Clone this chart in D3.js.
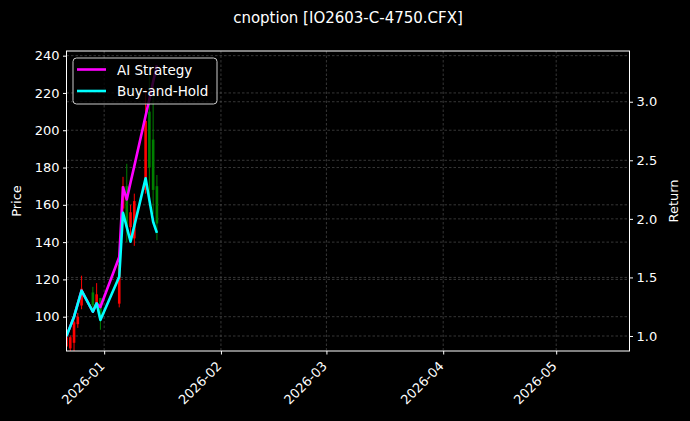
<!DOCTYPE html>
<html>
<head>
<meta charset="utf-8">
<script src="https://cdn.jsdelivr.net/npm/d3@7"></script>
<style>
  body { margin: 0; background: #000; }
  svg { display: block; font-family: "DejaVu Sans", sans-serif; }
</style>
</head>
<body>
<div id="chart"></div>
<script>
// trading days shown on the chart
var dates = ["2025-12-22", "2025-12-23", "2025-12-24", "2025-12-25", "2025-12-26",
             "2025-12-29", "2025-12-30", "2025-12-31", "2026-01-05", "2026-01-06",
             "2026-01-07", "2026-01-08", "2026-01-09", "2026-01-12", "2026-01-13",
             "2026-01-14", "2026-01-15"];

// option prices (OHLC)
var openPx  = [84, 83, 86, 96, 106, 113, 107, 110, 107, 158, 170, 148, 142, 168, 210, 195, 170];
var highPx  = [90, 90, 98, 102, 122, 116, 118, 110, 133, 175, 182, 160, 166, 222, 232, 224, 176];
var lowPx   = [78, 79, 80, 94, 104, 103, 107, 93, 105, 152, 140, 143, 138, 166, 162, 155, 141];
var closePx = [89, 89, 97, 100, 115, 106, 112, 100, 128, 170, 148, 156, 162, 205, 180, 168, 150];

// cumulative returns
var aiReturn = [1.0, 1.082, 1.165, 1.276, 1.387, 1.207, 1.279, 1.247, 1.674, 2.27,
                2.165, 2.31, 2.45, 2.88, 3.02, 3.17, 3.31];
var bhReturn = [1.0, 1.082, 1.165, 1.276, 1.387, 1.207, 1.279, 1.137, 1.506, 2.052,
                1.93, 1.805, 1.94, 2.346, 2.16, 1.975, 1.881];

var priceTicks = [100, 120, 140, 160, 180, 200, 220, 240];
var returnTicks = [1.0, 1.5, 2.0, 2.5, 3.0];
var monthTicks = ["2026-01-01", "2026-02-01", "2026-03-01", "2026-04-01", "2026-05-01"];

var W = 690, H = 421;
var margin = { top: 51, left: 66.5, right: 60.5, bottom: 70 };
var pw = W - margin.left - margin.right,
    ph = H - margin.top - margin.bottom;

var parse = d3.utcParse("%Y-%m-%d");
var days = dates.map(parse);

var x = d3.scaleUtc()
    .domain([parse("2025-12-22"), d3.utcHour.offset(parse("2026-05-20"), 11)])
    .range([0, pw]);
var y = d3.scaleLinear().domain([81.6, 242.5]).range([ph, 0]);
var y2 = d3.scaleLinear().domain([0.872, 3.433]).range([ph, 0]);

var svg = d3.select("#chart").append("svg")
    .attr("width", W)
    .attr("height", H);
svg.append("rect").attr("width", W).attr("height", H).attr("fill", "#000");

svg.append("defs").append("clipPath").attr("id", "clip")
  .append("rect").attr("width", pw).attr("height", ph);

var g = svg.append("g").attr("transform", "translate(" + margin.left + "," + margin.top + ")");

// grid lines
var grid = g.append("g").attr("class", "grid")
    .attr("stroke", "#5a5a5a").attr("stroke-width", 0.6).attr("stroke-dasharray", "2.5,2");
grid.selectAll(".gx").data(monthTicks.map(parse)).enter().append("line")
    .attr("x1", function(d) { return x(d); }).attr("x2", function(d) { return x(d); })
    .attr("y1", 0).attr("y2", ph);
grid.selectAll(".gy").data(priceTicks).enter().append("line")
    .attr("x1", 0).attr("x2", pw)
    .attr("y1", function(d) { return y(d); }).attr("y2", function(d) { return y(d); });
grid.selectAll(".gy2").data(returnTicks).enter().append("line")
    .attr("x1", 0).attr("x2", pw)
    .attr("y1", function(d) { return y2(d); }).attr("y2", function(d) { return y2(d); });

// candles
var candles = g.append("g").attr("clip-path", "url(#clip)");
var bars = candles.selectAll(".candle").data(days).enter().append("g");
function col(i) { return closePx[i] >= openPx[i] ? "#ff0000" : "#008000"; }
bars.append("line")
    .attr("x1", function(d) { return x(d); }).attr("x2", function(d) { return x(d); })
    .attr("y1", function(d, i) { return y(highPx[i]); })
    .attr("y2", function(d, i) { return y(lowPx[i]); })
    .attr("stroke", function(d, i) { return col(i); })
    .attr("stroke-width", 1);
bars.append("rect")
    .attr("x", function(d) { return x(d) - 1.3; })
    .attr("width", 2.6)
    .attr("y", function(d, i) { return y(Math.max(openPx[i], closePx[i])); })
    .attr("height", function(d, i) { return Math.abs(y(openPx[i]) - y(closePx[i])); })
    .attr("fill", function(d, i) { return col(i); });

// return lines
var line = d3.line()
    .x(function(d, i) { return x(days[i]); })
    .y(function(d) { return y2(d); });
var lines = g.append("g").attr("clip-path", "url(#clip)");
lines.append("path").datum(aiReturn)
    .attr("d", line).attr("fill", "none")
    .attr("stroke", "#ff00ff").attr("stroke-width", 2.6).attr("stroke-linejoin", "round");
lines.append("path").datum(bhReturn)
    .attr("d", line).attr("fill", "none")
    .attr("stroke", "#00ffff").attr("stroke-width", 2.6).attr("stroke-linejoin", "round");

// axes
var xAxis = d3.axisBottom(x).tickValues(monthTicks.map(parse))
    .tickFormat(d3.utcFormat("%Y-%m")).tickSize(3.5).tickPadding(3.5);
var yAxis = d3.axisLeft(y).tickValues(priceTicks).tickSize(3.5).tickPadding(3.5);
var y2Axis = d3.axisRight(y2).tickValues(returnTicks)
    .tickFormat(d3.format(".1f")).tickSize(3.5).tickPadding(3.5);

var gx = g.append("g").attr("transform", "translate(0," + ph + ")").call(xAxis);
gx.selectAll("text")
    .attr("text-anchor", "end")
    .attr("dy", 0)
    .attr("transform", "translate(-4,11) rotate(-45)");
g.append("g").call(yAxis);
g.append("g").attr("transform", "translate(" + pw + ",0)").call(y2Axis);

g.selectAll(".domain").remove();
g.selectAll(".tick line").attr("stroke", "#fff");
g.selectAll(".tick text").attr("fill", "#fff").attr("font-size", 13)
    .attr("font-family", "DejaVu Sans");

// frame
g.append("rect").attr("width", pw).attr("height", ph)
    .attr("fill", "none").attr("stroke", "#fff").attr("stroke-width", 1);

// legend
var leg = g.append("g").attr("transform", "translate(6.5,7)");
leg.append("rect").attr("width", 144).attr("height", 46).attr("rx", 3.5)
    .attr("fill", "#000").attr("fill-opacity", 0.8)
    .attr("stroke", "#cccccc").attr("stroke-width", 1);
var legItems = [["AI Strategy", "#ff00ff"], ["Buy-and-Hold", "#00ffff"]];
legItems.forEach(function(it, i) {
  leg.append("line").attr("x1", 4).attr("x2", 33)
      .attr("y1", 11.5 + i * 21.5).attr("y2", 11.5 + i * 21.5)
      .attr("stroke", it[1]).attr("stroke-width", 2.6);
  leg.append("text").attr("x", 44).attr("y", 16.5 + i * 21.5)
      .attr("fill", "#fff").attr("font-size", 13.5).text(it[0]);
});

// labels
svg.append("text").attr("x", margin.left + pw / 2).attr("y", 23)
    .attr("text-anchor", "middle").attr("fill", "#fff").attr("font-size", 15)
    .text("cnoption [IO2603-C-4750.CFX]");
svg.append("text").attr("transform", "translate(21," + (margin.top + ph / 2) + ") rotate(-90)")
    .attr("text-anchor", "middle").attr("fill", "#fff").attr("font-size", 13).text("Price");
svg.append("text").attr("transform", "translate(678," + (margin.top + ph / 2) + ") rotate(-90)")
    .attr("text-anchor", "middle").attr("fill", "#fff").attr("font-size", 13).text("Return");
</script>
</body>
</html>
